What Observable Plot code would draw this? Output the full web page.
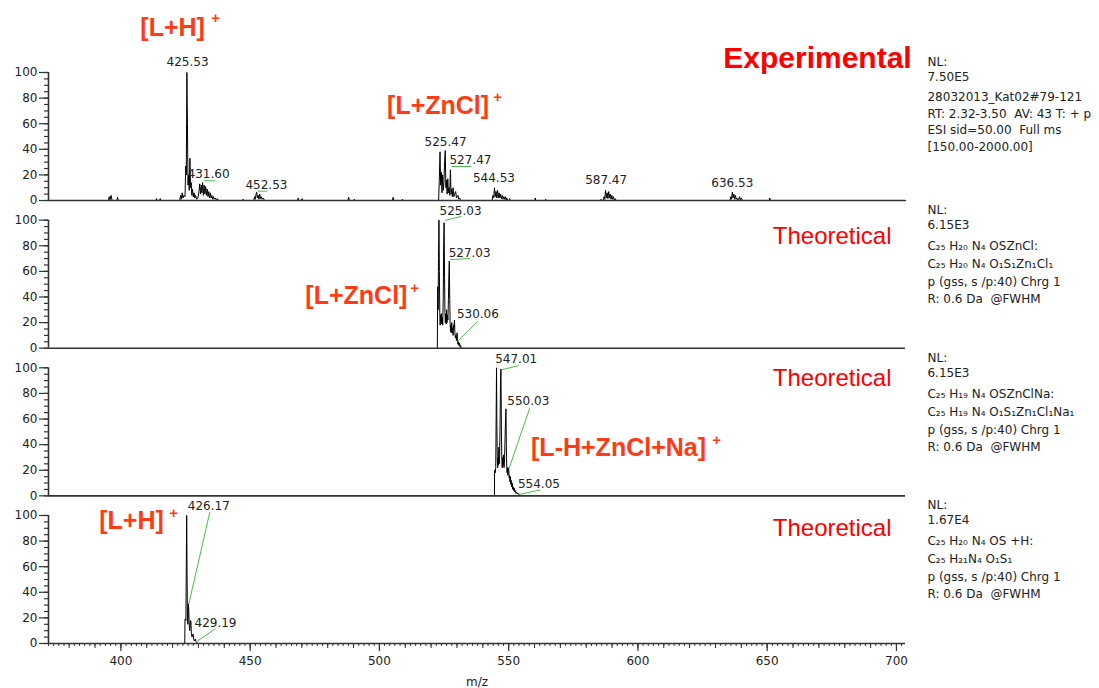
<!DOCTYPE html>
<html><head><meta charset="utf-8">
<script src="https://cdn.jsdelivr.net/npm/d3@7"></script>
<script src="https://cdn.jsdelivr.net/npm/@observablehq/plot@0.6"></script>
<style>
body{margin:0;background:#fff;}
#chart svg text{white-space:pre;}
</style></head><body><div id="chart"></div>
<script>
// ---- categories / ticks ----
const panels = ["exp", "zn", "na", "h"];
const xDomain = [372, 703.5];
const yTicks = [0, 20, 40, 60, 80, 100];
const yMinorTicks = d3.range(0, 101, 5);
const xTicks = [400, 450, 500, 550, 600, 650, 700];
const xMidTicks = d3.range(380, 701, 10);
const xMinorTicks = d3.range(372, 703, 2);

// ---- spectra: [m/z, relative abundance] ----
const expSpectrum = [
 [372,0],[395.2,0],[395.5,3],[395.8,0.5],[396.2,4],[396.5,1],[396.8,0],
 [398.4,0],[398.7,2.5],[399.0,0],
 [413.6,0],[413.8,1.5],[414.0,0],[415.0,0],[415.2,1.5],[415.4,0],
 [422.8,0],[423.1,4],[423.4,1],[423.7,6],[424.0,2],[424.4,4],[424.8,3],
 [425.1,27],[425.3,20],[425.53,100],[425.75,60],[425.95,12],[426.2,20],[426.45,8],[426.7,33],[426.95,10],[427.2,14],[427.45,4],[427.7,9],[428.0,3],[428.3,6],[428.6,2],[428.9,4],[429.3,1],[429.8,2],
 [430.2,7],[430.5,13],[430.8,5],[431.1,12],[431.35,6],[431.6,14],[431.9,4],[432.2,12],[432.5,5],[432.8,11],[433.1,4],[433.4,9],[433.7,3],[434.0,7],[434.3,2],[434.6,6],[434.9,2],[435.2,4],[435.5,1],[435.8,3],[436.1,1],[436.5,2],[436.9,0.5],[437.3,1.5],[437.7,0],
 [447.0,0],[447.3,1],[447.6,0],
 [451.4,0],[451.7,3],[452.0,1],[452.3,5],[452.53,6.5],[452.8,2],[453.1,4],[453.4,1],[453.7,5],[454.0,1.5],[454.3,3],[454.6,1],[455.0,2],[455.4,0.5],[455.8,0],
 [468.3,0],[468.6,2],[468.9,0],[469.8,0],[470.1,1.5],[470.4,0],
 [487.8,0],[488.1,2.5],[488.4,0],[490.1,0],[490.3,1],[490.5,0],
 [505.0,0],[505.3,2.5],[505.6,0],[508.6,0],[508.9,1],[509.2,0],
 [522.9,0],[523.15,15],[523.45,38],[523.7,12],[523.95,22],[524.2,6],[524.45,20],[524.7,8],[524.95,14],[525.2,30],[525.47,39],[525.7,10],[525.95,16],[526.2,5],[526.45,17],[526.7,6],[526.95,10],[527.2,4],[527.47,24],[527.7,5],[527.95,9],[528.2,3],[528.5,10],[528.8,3],[529.1,5],[529.5,7],[529.8,2],[530.1,3],[530.4,4],[530.7,1],[531.0,2],[531.3,0.5],[531.6,0],
 [543.6,0],[543.9,4],[544.2,2],[544.53,10],[544.8,3],[545.1,7],[545.4,2],[545.7,8],[546.0,2],[546.3,6],[546.6,2],[546.9,5],[547.2,1.5],[547.5,4],[547.8,1],[548.1,3],[548.4,1],[548.7,3],[549.0,0.5],[549.3,2],[549.6,0],
 [550.2,0],[550.4,1.5],[550.6,0],[560.1,0],[560.3,2],[560.5,0],[564.1,0],[564.3,1],[564.5,0],
 [585.5,0],[585.7,1],[585.9,0],[586.6,0],[586.9,3],[587.2,1],[587.47,8],[587.8,2],[588.1,6],[588.4,1.5],[588.7,7],[589.0,2],[589.3,5],[589.6,1],[589.9,4],[590.2,1],[590.5,3],[590.8,0.5],[591.2,1.5],[591.6,0],
 [635.6,0],[635.9,3],[636.2,1],[636.53,6.5],[636.8,2],[637.1,5],[637.4,1],[637.7,4],[638.0,1],[638.3,2],[638.6,0.5],[639.0,1],[639.3,3],[639.6,0.5],[640.0,2],[640.3,0.5],[640.6,0],
 [650.8,0],[651.0,2],[651.2,0],[703.5,0]
];
const znSpectrum = [
 [522.4,0],[522.55,48],[522.7,30],[522.85,70],[523.03,100],[523.2,60],[523.35,28],[523.5,18],[523.65,26],[523.8,20],[524.0,27],[524.15,19],[524.3,24],[524.5,18],[524.7,40],[524.85,80],[525.03,98],[525.2,55],[525.35,28],[525.5,20],[525.65,27],[525.8,19],[526.0,30],[526.15,20],[526.3,26],[526.5,22],[526.7,38],[526.85,55],[527.03,68],[527.2,40],[527.35,20],[527.5,13],[527.65,18],[527.8,12],[528.0,20],[528.15,12],[528.3,16],[528.5,10],[528.7,18],[528.85,16],[529.03,22],[529.2,12],[529.4,8],[529.6,10],[529.8,6],[530.06,12],[530.2,5],[530.4,3],[530.6,5],[530.8,2],[531.0,4],[531.2,1],[531.4,2],[531.6,0]
];
const naSpectrum = [
 [544.5,0],[544.55,20],[544.8,18],[545.0,22],[545.15,60],[545.3,100],[545.45,55],[545.6,28],[545.75,22],[545.9,30],[546.05,24],[546.2,38],[546.35,25],[546.5,30],[546.7,60],[546.85,90],[547.01,99],[547.2,50],[547.35,28],[547.5,22],[547.7,30],[547.85,24],[548.0,32],[548.2,22],[548.4,28],[548.6,45],[548.8,60],[548.95,68],[549.1,40],[549.25,22],[549.4,18],[549.55,22],[549.7,16],[549.85,22],[550.03,21],[550.2,14],[550.35,16],[550.5,11],[550.7,15],[550.85,9],[551.0,12],[551.2,7],[551.4,10],[551.6,5],[551.8,7],[552.0,4],[552.2,6],[552.4,3],[552.6,4],[552.8,2],[553.0,3],[553.3,1.5],[553.6,2],[553.9,1],[554.05,1.5],[554.3,0.5],[554.5,0]
];
const hSpectrum = [
 [424.7,0],[424.8,19],[425.0,19],[425.15,18],[425.3,60],[425.45,100],[425.6,55],[425.75,20],[425.9,15],[426.05,25],[426.17,31],[426.35,20],[426.5,12],[426.65,10],[426.8,14],[426.95,18],[427.1,17],[427.25,8],[427.4,6],[427.55,5],[427.7,6],[427.9,7.5],[428.05,5],[428.2,3],[428.4,2],[428.6,3],[428.8,3.5],[429.0,2],[429.19,1],[429.4,1],[429.6,0]
];

// ---- annotations ----
const peakLabels = [
 ["exp",425.8,107.8,"425.53"],["exp",433.9,20.3,"431.60"],["exp",456.3,11.7,"452.53"],
 ["exp",525.6,45.5,"525.47"],["exp",535.2,31.3,"527.47"],["exp",544.3,17.4,"544.53"],
 ["exp",587.7,15.6,"587.47"],["exp",636.5,13.5,"636.53"],
 ["zn",531.4,107.0,"525.03"],["zn",534.9,74.5,"527.03"],["zn",538.1,26.3,"530.06"],
 ["na",552.9,106.5,"547.01"],["na",557.6,73.9,"550.03"],["na",561.7,8.8,"554.05"],
 ["h",434.0,107.0,"426.17"],["h",436.6,15.9,"429.19"]
];
const peakLinks = [
 ["exp",432.0,15.4,436.6,15.4],["exp",453.0,7.3,456.6,7.3],["exp",527.9,26.6,535.5,26.6],
 ["zn",525.3,99.8,531.6,102.9],["zn",527.2,69.1,535.0,70.1],["zn",538.0,21.1,530.3,5.5],
 ["na",547.2,98.4,553.9,101.8],["na",558.2,68.8,550.1,21.1],["na",562.3,4.7,553.9,1.0],
 ["h",434.4,102.6,426.3,31.1],["h",436.6,11.5,428.9,1.0]
];
const ionLabels = [
 ["exp",420.0,134.4,"[L+H]"],["exp",522.7,74.2,"[L+ZnCl]"],
 ["zn",491.1,40.4,"[L+ZnCl]"],["na",592.5,37.0,"[L-H+ZnCl+Na]"],["h",404.1,95.3,"[L+H]"]
];
const ionCharges = [
 ["exp",436.6,142.2,"+"],["exp",545.7,80.5,"+"],["zn",513.6,46.6,"+"],["na",630.4,43.2,"+"],["h",420.4,101.6,"+"]
];
const panelTitles = [
 ["exp",705.9,110.9,"Experimental"],["zn",698.1,87.3,"Theoretical"],["na",698.1,91.6,"Theoretical"],["h",698.1,89.8,"Theoretical"]
];
const infoExp = ["NL:","7.50E5","28032013_Kat02#79-121","RT: 2.32-3.50  AV: 43 T: + p","ESI sid=50.00  Full ms","[150.00-2000.00]"];
const infoZn = ["NL:","6.15E3","C₂₅ H₂₀ N₄ OSZnCl:","C₂₅ H₂₀ N₄ O₁S₁Zn₁Cl₁","p (gss, s /p:40) Chrg 1","R: 0.6 Da  @FWHM"];
const infoNa = ["NL:","6.15E3","C₂₅ H₁₉ N₄ OSZnClNa:","C₂₅ H₁₉ N₄ O₁S₁Zn₁Cl₁Na₁","p (gss, s /p:40) Chrg 1","R: 0.6 Da  @FWHM"];
const infoH = ["NL:","1.67E4","C₂₅ H₂₀ N₄ OS +H:","C₂₅ H₂₁N₄ O₁S₁","p (gss, s /p:40) Chrg 1","R: 0.6 Da  @FWHM"];
const infoX = 712;
const infoYExp = [107.8, 96.1, 80.5, 67.6, 54.7, 41.8];
const infoYTheo = [107.8, 96.1, 79.7, 65.6, 51.6, 38.3];

// ---- build tables ----
const spectra = [];
[["exp",expSpectrum],["zn",znSpectrum],["na",naSpectrum],["h",hSpectrum]].forEach(([panel, s]) =>
  s.forEach(([mz, v]) => spectra.push({panel, mz, v})));
const toRow = ([panel, x, y, text]) => ({panel, x, y, text});
const links = peakLinks.map(([panel, x1, y1, x2, y2]) => ({panel, x1, y1, x2, y2}));
const info = [];
[["exp",infoExp,infoYExp],["zn",infoZn,infoYTheo],["na",infoNa,infoYTheo],["h",infoH,infoYTheo]].forEach(([panel, lines, ys]) =>
  lines.forEach((text, i) => info.push({panel, x: infoX, y: ys[i], text})));
const axisLabel = [{panel: "h", x: (xDomain[0] + xDomain[1]) / 2, y: -30.5, text: "m/z"}];

const redFont = "Liberation Sans, Arial, sans-serif";
const axisColor = "#333";

const chart = Plot.plot({
  width: 1099,
  height: 688,
  marginLeft: 48,
  marginRight: 194,
  marginTop: 72,
  marginBottom: 45,
  style: {fontFamily: "DejaVu Sans, sans-serif", fontSize: "12px", color: "#222", background: "#fff"},
  x: {domain: xDomain, axis: null},
  y: {domain: [0, 100], axis: null},
  fy: {domain: panels, axis: null, paddingInner: 0.133, paddingOuter: 0, round: false},
  marks: [
    Plot.axisY({ticks: yMinorTicks, tickSize: 4, text: null, label: null, stroke: axisColor, strokeWidth: 1.2}),
    Plot.axisY({ticks: yTicks, tickSize: 9, tickPadding: 2, label: null, stroke: axisColor, strokeWidth: 1.2, fontSize: 12}),
    Plot.axisX({ticks: xMinorTicks, tickSize: 3, text: null, label: null, stroke: axisColor, facetAnchor: "bottom"}),
    Plot.axisX({ticks: xMidTicks, tickSize: 5, text: null, label: null, stroke: axisColor, facetAnchor: "bottom"}),
    Plot.axisX({ticks: xTicks, tickSize: 8, tickPadding: 5, label: null, stroke: axisColor, strokeWidth: 1.2, facetAnchor: "bottom", fontSize: 12}),
    Plot.ruleX([xDomain[0]], {y1: 0, y2: 100, stroke: axisColor, strokeWidth: 1.6}),
    Plot.line(spectra, {x: "mz", y: "v", fy: "panel", z: "panel", stroke: "#000", strokeWidth: 1}),
    Plot.ruleY([0], {stroke: axisColor, strokeWidth: 1.6}),
    Plot.link(links, {x1: "x1", y1: "y1", x2: "x2", y2: "y2", fy: "panel", stroke: "#4cbb4c", strokeWidth: 1}),
    Plot.text(peakLabels.map(toRow), {x: "x", y: "y", text: "text", fy: "panel", fill: "#222", fontSize: 12}),
    Plot.text(ionLabels.map(toRow), {x: "x", y: "y", text: "text", fy: "panel", fill: "#ff3b14", fontSize: 25, fontWeight: "bold", fontFamily: redFont}),
    Plot.text(ionCharges.map(toRow), {x: "x", y: "y", text: "text", fy: "panel", fill: "#ff3b14", fontSize: 15, fontWeight: "bold", fontFamily: redFont}),
    Plot.text(panelTitles.filter(d => d[0] === "exp").map(toRow), {x: "x", y: "y", text: "text", fy: "panel", fill: "#ff0000", fontSize: 30, fontWeight: "bold", textAnchor: "end", fontFamily: redFont}),
    Plot.text(panelTitles.filter(d => d[0] !== "exp").map(toRow), {x: "x", y: "y", text: "text", fy: "panel", fill: "#ff0000", fontSize: 24, textAnchor: "end", fontFamily: redFont}),
    Plot.text(info, {x: "x", y: "y", text: "text", fy: "panel", fill: "#222", fontSize: 12, textAnchor: "start"}),
    Plot.text(axisLabel, {x: "x", y: "y", text: "text", fy: "panel", fill: "#222", fontSize: 12})
  ]
});
document.getElementById("chart").appendChild(chart);
</script>
</body></html>
